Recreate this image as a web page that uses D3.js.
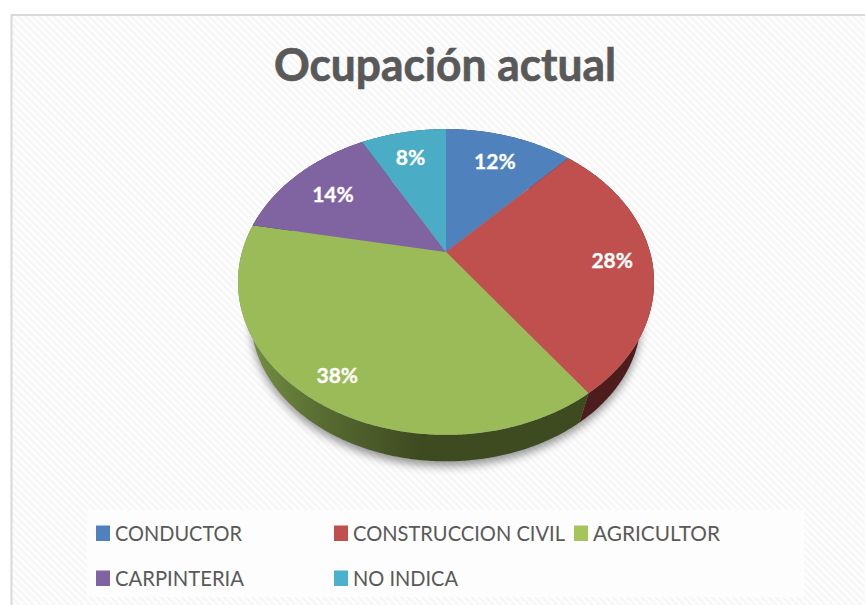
<!DOCTYPE html>
<html>
<head>
<meta charset="utf-8">
<script src="https://d3js.org/d3.v7.min.js"></script>
<style>
html, body { margin: 0; padding: 0; background: #fff; overflow: hidden; }
svg { display: block; }
</style>
</head>
<body>
<script>
const width = 865, height = 605;

const categories = ["CONDUCTOR", "CONSTRUCCION CIVIL", "AGRICULTOR", "CARPINTERIA", "NO INDICA"];
const shares = [12, 28, 38, 14, 8];
const colors = ["#4f81bd", "#c0504d", "#9bbb59", "#8064a2", "#4bacc6"];
const legendColors = ["#4f81bd", "#c0504d", "#a5c45c", "#8064a2", "#4bb0ce"];
const titleText = "Ocupación actual";

// perspective of the tilted disc, vertex of the slices is at (446,252)
const cx = 446, cy = 252, rx = 204, ry = 147, tilt = -0.196;
const wallScale = 0.937, wallY = 290;

const toX = d3.scaleLinear().domain([-1, 1]).range([cx - rx, cx + rx]);
const toY = d3.scaleLinear().domain([-1, 1]).range([cy - ry, cy + ry]);

function project(angle, r) {
    const u = r * Math.sin(angle), v = -r * Math.cos(angle);
    const w = 1 + tilt * v;
    return [toX(u / w), toY(v / w)];
}

function lower(p) {
    return [cx + (p[0] - cx) * wallScale, wallY + (p[1] - cy) * wallScale];
}

function arcPoints(a0, a1) {
    const n = Math.max(2, Math.ceil((a1 - a0) / 0.01));
    return d3.range(n + 1).map(i => project(a0 + (a1 - a0) * i / n, 1));
}

const line = d3.line();
const slices = d3.pie().sort(null).value(d => d)(shares);

const svg = d3.select("body").append("svg")
    .attr("width", width)
    .attr("height", height);

const defs = svg.append("defs");

const hatch = defs.append("pattern")
    .attr("id", "hatch")
    .attr("width", 5).attr("height", 5)
    .attr("patternUnits", "userSpaceOnUse")
    .attr("patternTransform", "rotate(-45)");
hatch.append("rect").attr("width", 5).attr("height", 5).attr("fill", "#fefefe");
hatch.append("rect").attr("width", 2.5).attr("height", 5).attr("fill", "#f6f6f6");

defs.append("filter")
    .attr("id", "soft")
    .attr("x", "-10%").attr("y", "-10%").attr("width", "120%").attr("height", "120%")
    .append("feGaussianBlur").attr("stdDeviation", 4);

const greenWall = defs.append("linearGradient")
    .attr("id", "greenWall")
    .attr("gradientUnits", "userSpaceOnUse")
    .attr("x1", 250).attr("x2", 420).attr("y1", 0).attr("y2", 0);
greenWall.append("stop").attr("offset", 0).attr("stop-color", "#738f42");
greenWall.append("stop").attr("offset", 0.45).attr("stop-color", "#566a31");
greenWall.append("stop").attr("offset", 1).attr("stop-color", "#3e4a20");

const wallFill = ["#2a415f", "#4d1c1c", "url(#greenWall)", "#403251", "#255663"];

// chart area
svg.append("rect")
    .attr("x", 11.5).attr("y", 15)
    .attr("width", width).attr("height", height)
    .attr("fill", "url(#hatch)")
    .attr("stroke", "#d9d9d9")
    .attr("stroke-width", 2);

// title
svg.append("text")
    .attr("x", 445).attr("y", 81)
    .attr("text-anchor", "middle")
    .attr("font-family", "Lato, sans-serif")
    .attr("font-weight", 700)
    .attr("font-size", 46)
    .attr("fill", "#595959")
    .attr("stroke", "#595959")
    .attr("stroke-width", 0.7)
    .attr("textLength", 342)
    .attr("lengthAdjust", "spacingAndGlyphs")
    .text(titleText);

// shadow under the disc
const outline = arcPoints(0, 2 * Math.PI).map(lower);
svg.append("path")
    .attr("d", line(outline.map(p => [p[0], p[1] + 5])) + "Z")
    .attr("fill", "#000")
    .attr("fill-opacity", 0.4)
    .attr("filter", "url(#soft)");

// side wall, one band per slice
svg.selectAll(".wall")
    .data(slices)
    .enter()
    .append("path")
    .attr("class", "wall")
    .attr("d", d => {
        const pts = arcPoints(d.startAngle, d.endAngle);
        return line(pts.concat(pts.map(lower).reverse())) + "Z";
    })
    .attr("fill", (d, i) => wallFill[i]);

// top face
svg.selectAll(".slice")
    .data(slices)
    .enter()
    .append("path")
    .attr("class", "slice")
    .attr("d", d => line([[cx, cy]].concat(arcPoints(d.startAngle, d.endAngle))) + "Z")
    .attr("fill", (d, i) => colors[i]);

// value labels, nudged off the slice middle
const labelR = [0.62, 0.76, 0.68, 0.68, 0.68];
const labelDx = [7, 10, -25, -9, -5];
const labelDy = [-14, 1, 28, -3, -9];
svg.selectAll(".value")
    .data(slices)
    .enter()
    .append("text")
    .attr("class", "value")
    .attr("transform", (d, i) => {
        const p = project((d.startAngle + d.endAngle) / 2, labelR[i]);
        return "translate(" + (p[0] + labelDx[i]) + "," + (p[1] + labelDy[i]) + ")";
    })
    .attr("text-anchor", "middle")
    .attr("dy", "0.36em")
    .attr("font-family", "Lato, sans-serif")
    .attr("font-weight", 700)
    .attr("font-size", 21)
    .attr("fill", "#fff")
    .attr("stroke", "#fff")
    .attr("stroke-width", 0.3)
    .text(d => d.value + "%");

// legend
svg.append("rect")
    .attr("x", 87).attr("y", 510)
    .attr("width", 717).attr("height", 87)
    .attr("fill", "#fdfdfd");

const legendX = [96, 334, 574, 96, 334];
const legendY = [533, 533, 533, 578, 578];
const legendLength = [127, 212, 127, 129, 105];

const legend = svg.selectAll(".legend")
    .data(categories)
    .enter()
    .append("g")
    .attr("class", "legend")
    .attr("transform", (d, i) => "translate(" + legendX[i] + "," + legendY[i] + ")");

legend.append("rect")
    .attr("y", -7.5).attr("width", 14).attr("height", 15.5)
    .attr("fill", (d, i) => legendColors[i]);

legend.append("text")
    .attr("x", 19).attr("y", 7.5)
    .attr("font-family", "Lato, sans-serif")
    .attr("font-size", 22)
    .attr("fill", "#595959")
    .attr("textLength", (d, i) => legendLength[i])
    .attr("lengthAdjust", "spacingAndGlyphs")
    .text(d => d);
</script>
</body>
</html>
